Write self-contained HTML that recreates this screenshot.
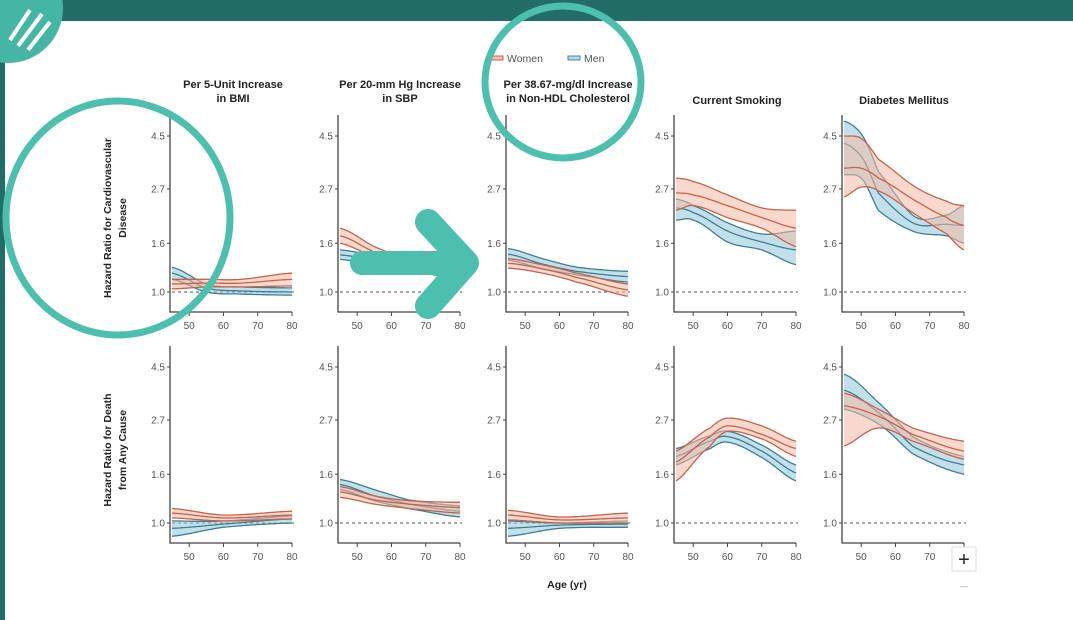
<!DOCTYPE html>
<html><head><meta charset="utf-8"><style>
html,body{margin:0;padding:0;background:#fff;width:1073px;height:620px;overflow:hidden}
svg{display:block}
text{font-family:"Liberation Sans",sans-serif}
</style></head><body>
<svg id="s" width="1073" height="620" viewBox="0 0 1073 620" xmlns="http://www.w3.org/2000/svg">
<rect x="0" y="0" width="1073" height="21" fill="#236d67"/>
<rect x="0" y="60" width="5" height="560" fill="#236d67"/>
<g id="plots"></g>
<g font-size="11" font-weight="bold" fill="#222" text-anchor="middle">
<text x="233" y="88">Per 5-Unit Increase</text><text x="233" y="102">in BMI</text>
<text x="400" y="88">Per 20-mm Hg Increase</text><text x="400" y="102">in SBP</text>
<text x="568" y="88">Per 38.67-mg/dl Increase</text><text x="568" y="102">in Non-HDL Cholesterol</text>
<text x="737" y="104">Current Smoking</text>
<text x="904" y="104">Diabetes Mellitus</text>
<text x="567" y="588" font-size="10.5">Age (yr)</text>
</g>
<g font-size="10.5" font-weight="bold" fill="#222" text-anchor="middle">
<text transform="translate(111,218) rotate(-90)">Hazard Ratio for Cardiovascular</text>
<text transform="translate(126,218) rotate(-90)">Disease</text>
<text transform="translate(111,450) rotate(-90)">Hazard Ratio for Death</text>
<text transform="translate(126,450) rotate(-90)">from Any Cause</text>
</g>
<g font-size="10.5" fill="#555">
<rect x="491" y="56" width="12" height="4" fill="#f4c3b3" stroke="#c8624a" stroke-width="1"/>
<text x="507" y="62">Women</text>
<rect x="568" y="56" width="12" height="4" fill="#b5dbe6" stroke="#4a8aa0" stroke-width="1"/>
<text x="584" y="62">Men</text>
</g>
<g fill="none" stroke="#4dbfae">
<ellipse cx="118" cy="218" rx="112" ry="117" stroke-width="7"/>
<ellipse cx="563" cy="82" rx="78" ry="76" stroke-width="7"/>
<line x1="362" y1="263" x2="455" y2="263" stroke-width="24" stroke-linecap="round"/>
<polyline points="428,222 466,263 428,306" stroke-width="26" stroke-linecap="round" stroke-linejoin="round"/>
</g>
<circle cx="8" cy="8" r="55" fill="#45b5a4"/>
<path d="M10 40 L30 10 M18 46 L42 14 M28 50 L50 22" stroke="#fff" stroke-width="4" fill="none"/>
<rect x="952" y="547" width="24" height="24" fill="#fff" stroke="#ddd"/>
<text x="964" y="566" font-size="20" text-anchor="middle" fill="#222">+</text>
<text x="964" y="592" font-size="16" text-anchor="middle" fill="#ccc">−</text>
</svg>
<script>
var NS="http://www.w3.org/2000/svg",G=document.getElementById("plots");
function el(t,a,p){var e=document.createElementNS(NS,t);for(var k in a)e.setAttribute(k,a[k]);(p||G).appendChild(e);return e;}
var axes=[170,338,506,674,842],rows=[292,523];
function Y(r,h){return rows[r]-Math.log(h)/Math.log(4.5)*156;}
function X(c,a){return axes[c]+2+(a-45)*3.43;}
function interp(ages,vals){var out=[];for(var a=45;a<=80;a+=0.5){var i=0;while(i<ages.length-2&&a>ages[i+1])i++;var t=(a-ages[i])/(ages[i+1]-ages[i]);
 var p0=vals[Math.max(i-1,0)],p1=vals[i],p2=vals[i+1],p3=vals[Math.min(i+2,vals.length-1)];
 var t2=t*t,t3=t2*t;var v=0.5*((2*p1)+(-p0+p2)*t+(2*p0-5*p1+4*p2-p3)*t2+(-p0+3*p1-3*p2+p3)*t3);out.push([a,v]);}return out;}
function band(c,r,ages,up,mid,lo,fill,stroke){
 var U=interp(ages,up),M=interp(ages,mid),L=interp(ages,lo);
 var f=function(pts){return pts.map(function(p){return X(c,p[0]).toFixed(1)+","+Y(r,p[1]).toFixed(1);});};
 var d="M"+f(U).join(" L")+" L"+f(L).reverse().join(" L")+"Z";
 el("path",{d:d,fill:fill,"fill-opacity":0.55,stroke:"none"});
 [U,M,L].forEach(function(P){el("path",{d:"M"+f(P).join(" L"),fill:"none",stroke:stroke,"stroke-width":1.3});});
}
var W=["#f4b9a4","#c8624a"],Mn=["#8fc6d8","#3f7f95"];
var D=[
// row 0
[[[45,55,65,80],[1.27,1.08,1.05,1.04],[1.2,1.04,1.01,1.0],[1.13,1.0,0.98,0.97]],[[45,55,65,80],[1.13,1.13,1.13,1.2],[1.08,1.09,1.09,1.13],[1.03,1.05,1.05,1.06]]],
[[[45,55,65,80],[1.5,1.42,1.32,1.25],[1.43,1.36,1.27,1.2],[1.37,1.3,1.22,1.15]],[[45,55,65,80],[1.85,1.55,1.38,1.3],[1.72,1.47,1.32,1.24],[1.6,1.4,1.26,1.18]]],
[[[45,55,65,80],[1.52,1.38,1.27,1.22],[1.44,1.31,1.22,1.16],[1.36,1.25,1.18,1.1]],[[45,55,65,80],[1.38,1.3,1.2,1.08],[1.32,1.25,1.15,1.02],[1.26,1.2,1.1,0.96]]],
[[[45,50,60,70,80],[2.45,2.3,1.95,1.75,1.8],[2.25,2.15,1.8,1.62,1.5],[2.0,2.0,1.62,1.5,1.3]],[[45,50,60,70,80],[3.0,2.9,2.55,2.25,2.2],[2.6,2.55,2.3,2.05,1.85],[2.2,2.3,2.05,1.85,1.55]]],
[[[45,50,55,65,75,80],[5.2,4.6,3.2,2.1,2.1,2.3],[4.2,3.7,2.6,1.95,1.92,1.9],[3.1,3.0,2.2,1.8,1.72,1.6]],[[45,50,55,65,75,80],[4.5,4.4,3.6,2.8,2.4,2.3],[3.3,3.3,3.0,2.45,2.05,1.9],[2.5,2.75,2.65,2.15,1.75,1.5]]],
// row 1
[[[45,60,80],[1.02,1.02,1.07],[0.95,0.99,1.04],[0.88,0.96,1.0]],[[45,60,80],[1.15,1.08,1.12],[1.1,1.05,1.08],[1.05,1.02,1.04]]],
[[[45,55,65,80],[1.52,1.38,1.25,1.18],[1.45,1.3,1.2,1.12],[1.38,1.24,1.15,1.06]],[[45,55,65,80],[1.42,1.3,1.24,1.22],[1.35,1.25,1.2,1.16],[1.28,1.2,1.15,1.1]]],
[[[45,60,80],[1.02,1.0,1.02],[0.95,0.98,0.99],[0.88,0.95,0.96]],[[45,60,80],[1.13,1.06,1.1],[1.08,1.03,1.05],[1.03,1.0,1.0]]],
[[[45,55,60,70,80],[2.05,2.32,2.42,2.12,1.75],[1.9,2.2,2.3,2.0,1.62],[1.75,2.05,2.18,1.88,1.5]],[[45,55,60,70,80],[2.0,2.5,2.75,2.55,2.2],[1.8,2.3,2.55,2.35,2.05],[1.5,2.1,2.42,2.25,1.9]]],
[[[45,55,65,80],[4.2,3.2,2.3,1.9],[3.6,2.9,2.1,1.75],[3.0,2.6,1.95,1.6]],[[45,55,65,80],[3.5,3.0,2.5,2.2],[3.1,2.8,2.35,2.0],[2.1,2.5,2.2,1.85]]]
];
for(var r=0;r<2;r++)for(var c=0;c<5;c++){
 var ax=axes[c],by=rows[r];
 el("line",{x1:ax+2,y1:by,x2:ax+124,y2:by,stroke:"#777","stroke-dasharray":"3,3","stroke-width":1.2});
 var d=D[r*5+c];
 band(c,r,d[0][0],d[0][1],d[0][2],d[0][3],Mn[0],Mn[1]);
 band(c,r,d[1][0],d[1][1],d[1][2],d[1][3],W[0],W[1]);
 el("path",{d:"M"+ax+","+(by-177)+" V"+(by+20)+" H"+(ax+122),fill:"none",stroke:"#444","stroke-width":1.3});
 [[4.5,"4.5"],[2.7,"2.7"],[1.6,"1.6"],[1.0,"1.0"]].forEach(function(t){var y=Y(r,t[0]);
  el("line",{x1:ax-3,y1:y,x2:ax,y2:y,stroke:"#444"});
  var tx=el("text",{x:ax-5,y:y+3.5,"text-anchor":"end","font-size":10,fill:"#555"});tx.textContent=t[1];});
 [50,60,70,80].forEach(function(a){var x=X(c,a);
  el("line",{x1:x,y1:by+20,x2:x,y2:by+24,stroke:"#444"});
  var tx=el("text",{x:x,y:by+37,"text-anchor":"middle","font-size":10,fill:"#555"});tx.textContent=a;});
}
// move annotations on top
var s=document.getElementById("s");
s.appendChild(s.querySelector("g[stroke='#4dbfae']"));
</script>
</body></html>
